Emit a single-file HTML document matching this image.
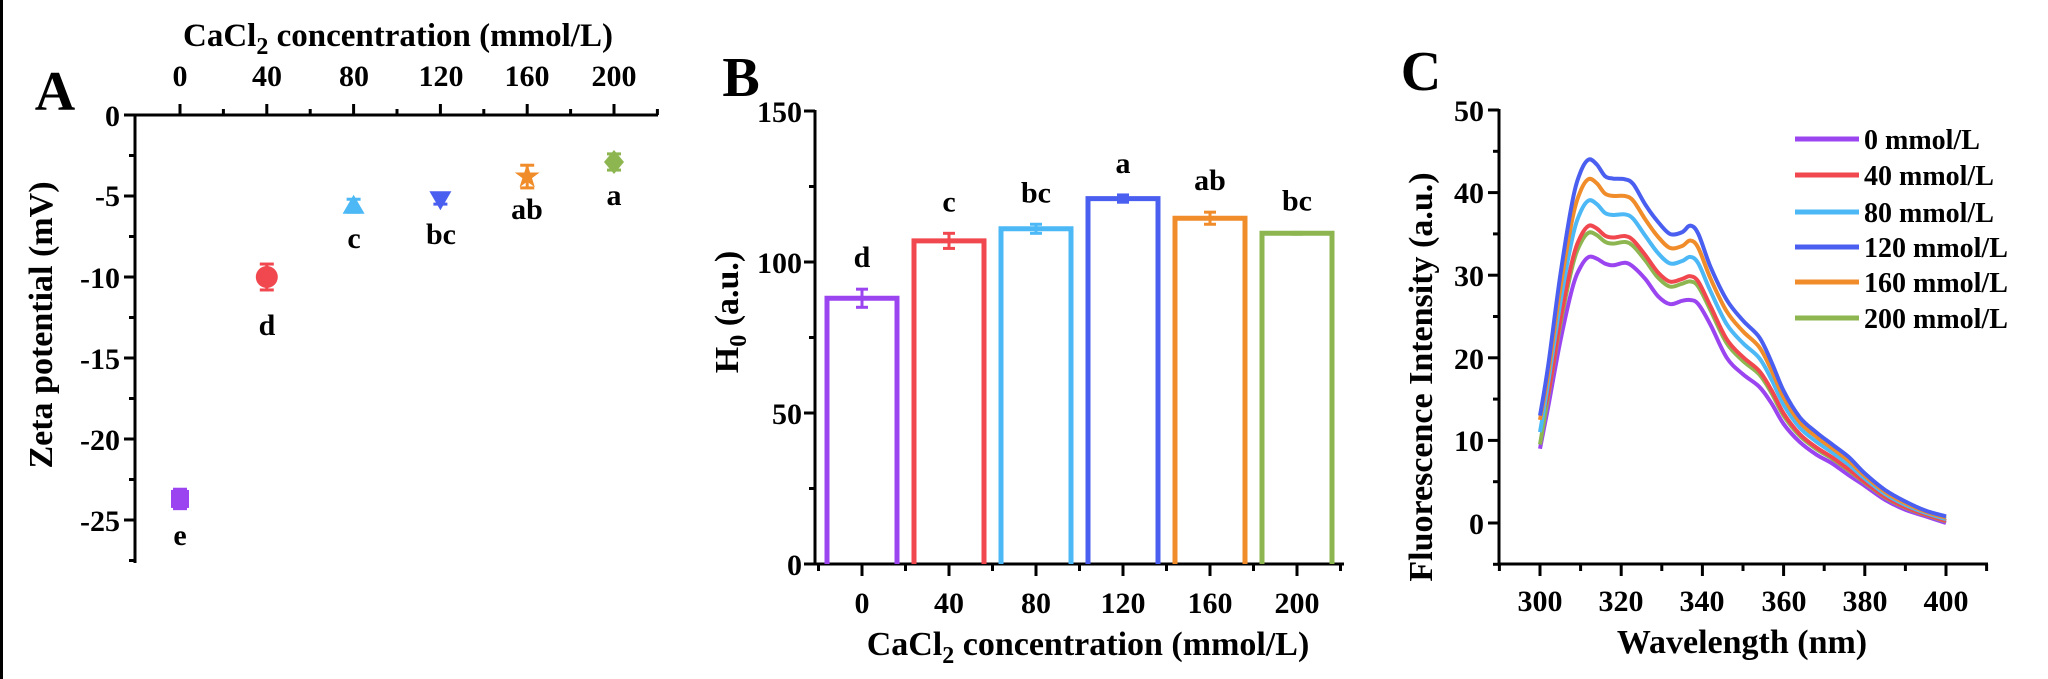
<!DOCTYPE html>
<html><head><meta charset="utf-8"><style>
html,body{margin:0;padding:0;background:#fff;}
svg{display:block;}
text{font-family:"Liberation Serif",serif;font-weight:bold;fill:#000;}
</style></head><body>
<svg id="s" width="2048" height="679" viewBox="0 0 2048 679" xmlns="http://www.w3.org/2000/svg">
<rect x="0" y="0" width="2048" height="679" fill="#fff"/>
<rect x="0" y="0" width="3" height="679" fill="#000"/>
<!-- Panel A -->
<text x="55" y="110" font-size="56" text-anchor="middle">A</text>
<text x="398" y="46" font-size="33" text-anchor="middle">CaCl<tspan font-size="24" dy="8">2</tspan><tspan dy="-8"> concentration (mmol/L)</tspan></text>
<g font-size="30" text-anchor="middle">
<text x="180" y="86">0</text><text x="267" y="86">40</text><text x="354" y="86">80</text><text x="441" y="86">120</text><text x="527" y="86">160</text><text x="614" y="86">200</text>
</g>
<g stroke="#000" stroke-width="3" fill="none">
<line x1="125" y1="115" x2="658" y2="115"/>
<line x1="135" y1="114" x2="135" y2="563"/>
</g>
<g id="aticks" stroke="#000" stroke-width="3"></g>
<g font-size="30" text-anchor="end">
<text x="120" y="126">0</text><text x="120" y="206">-5</text><text x="120" y="288">-10</text><text x="120" y="369">-15</text><text x="120" y="450">-20</text><text x="120" y="531">-25</text>
</g>
<text transform="translate(52,325) rotate(-90)" font-size="34" text-anchor="middle">Zeta potential (mV)</text>
<g id="apts"></g>
<g font-size="30" text-anchor="middle">
<text x="180" y="545">e</text><text x="267" y="335">d</text><text x="354" y="248">c</text><text x="441" y="244">bc</text><text x="527" y="219">ab</text><text x="614" y="205">a</text>
</g>
<!-- Panel B -->
<text x="741" y="96" font-size="56" text-anchor="middle">B</text>
<g stroke="#000" stroke-width="3" fill="none">
<line x1="815" y1="110" x2="815" y2="565"/>
<line x1="814" y1="564" x2="1344" y2="564"/>
</g>
<g id="bticks" stroke="#000" stroke-width="3"></g>
<g font-size="30" text-anchor="end">
<text x="802" y="122">150</text><text x="802" y="273">100</text><text x="802" y="424">50</text><text x="802" y="575">0</text>
</g>
<text transform="translate(738,312) rotate(-90)" font-size="34" text-anchor="middle">H<tspan font-size="24" dy="8">0</tspan><tspan dy="-8"> (a.u.)</tspan></text>
<g id="bars"></g>
<g font-size="30" text-anchor="middle">
<text x="862" y="613">0</text><text x="949" y="613">40</text><text x="1036" y="613">80</text><text x="1123" y="613">120</text><text x="1210" y="613">160</text><text x="1297" y="613">200</text>
</g>
<text x="1088" y="655" font-size="34" text-anchor="middle">CaCl<tspan font-size="24" dy="8">2</tspan><tspan dy="-8"> concentration (mmol/L)</tspan></text>
<!-- Panel C -->
<text x="1421" y="90" font-size="56" text-anchor="middle">C</text>
<g stroke="#000" stroke-width="3" fill="none">
<line x1="1499" y1="109" x2="1499" y2="565"/>
<line x1="1498" y1="564" x2="1988" y2="564"/>
</g>
<g id="cticks" stroke="#000" stroke-width="3"></g>
<g font-size="30" text-anchor="end">
<text x="1484" y="121">50</text><text x="1484" y="203">40</text><text x="1484" y="286">30</text><text x="1484" y="369">20</text><text x="1484" y="451">10</text><text x="1484" y="534">0</text>
</g>
<g font-size="30" text-anchor="middle">
<text x="1540" y="611">300</text><text x="1621" y="611">320</text><text x="1702" y="611">340</text><text x="1784" y="611">360</text><text x="1865" y="611">380</text><text x="1946" y="611">400</text>
</g>
<text x="1742" y="653" font-size="34" text-anchor="middle">Wavelength (nm)</text>
<text transform="translate(1432,377) rotate(-90)" font-size="34" text-anchor="middle">Fluorescence Intensity (a.u.)</text>
<g id="curves" fill="none" stroke-width="4" stroke-linejoin="round"></g>
<g id="legend"></g>
</svg>
<script>
var NS="http://www.w3.org/2000/svg";
function el(p,t,a){var e=document.createElementNS(NS,t);for(var k in a)e.setAttribute(k,a[k]);p.appendChild(e);return e;}
var C=["#9b45f0","#f0484e","#4cb8f5","#4a5ff0","#f08c2a","#8db651"];
var at=document.getElementById('aticks');
for(var v=0;v<=220;v+=20){var x=180+v*86.8/40;el(at,'line',{x1:x,y1:115,x2:x,y2:(v%40==0?104:109)});}
for(var v=0;v>=-27.5;v-=2.5){var y=115+(-v)*81/5;el(at,'line',{x1:135,y1:y,x2:(Math.abs(v%5)<0.01?124:129),y2:y});}
var ap=document.getElementById('apts');
var AV=[[-23.7,0.6],[-10,0.8],[-5.6,0.4],[-5.2,0.3],[-3.8,0.7],[-2.9,0.5]];
function ax(i){return 180+i*86.8;} function ay(v){return 115+(-v)*81/5;}
AV.forEach(function(d,i){var x=ax(i),y=ay(d[0]),c=C[i],y1=ay(d[0]+d[1]),y2=ay(d[0]-d[1]);
 el(ap,'line',{x1:x,y1:y1,x2:x,y2:y2,stroke:c,'stroke-width':3});
 el(ap,'line',{x1:x-7,y1:y1,x2:x+7,y2:y1,stroke:c,'stroke-width':3});
 el(ap,'line',{x1:x-7,y1:y2,x2:x+7,y2:y2,stroke:c,'stroke-width':3});
 var s=9;
 if(i==0)el(ap,'rect',{x:x-s,y:y-s,width:2*s,height:2*s,fill:c});
 if(i==1)el(ap,'circle',{cx:x,cy:y,r:11,fill:c});
 if(i==2)el(ap,'polygon',{points:(x)+','+(y-11)+' '+(x+11)+','+(y+8)+' '+(x-11)+','+(y+8),fill:c});
 if(i==3)el(ap,'polygon',{points:(x)+','+(y+11)+' '+(x+11)+','+(y-8)+' '+(x-11)+','+(y-8),fill:c});
 if(i==4){var p=[];for(var k=0;k<10;k++){var r=k%2?5:13,a=-Math.PI/2+k*Math.PI/5;p.push((x+r*Math.cos(a)).toFixed(1)+','+(y+r*Math.sin(a)).toFixed(1));}el(ap,'polygon',{points:p.join(' '),fill:c});}
 if(i==5)el(ap,'polygon',{points:x+','+(y-12)+' '+(x+10)+','+y+' '+x+','+(y+12)+' '+(x-10)+','+y,fill:c});
});
var bt=document.getElementById('bticks');
for(var v=0;v<=150;v+=25){var y=564-v*151/50;el(bt,'line',{x1:815,y1:y,x2:(v%50==0?804:809),y2:y});}
for(var i=-0.5;i<=5.5;i+=0.5){var x=862+i*87;el(bt,'line',{x1:x,y1:564,x2:x,y2:(Math.abs(i%1)<0.01?576:571)});}
var bb=document.getElementById('bars');
var BV=[[88,3],[107,2.5],[111,1.5],[121,1.2],[114.5,2],[109.5,0.3]];
function by(v){return 564-v*151/50;}
BV.forEach(function(d,i){var x=862+i*87,c=C[i],t=by(d[0]);
 el(bb,'path',{d:'M'+(x-35)+' 564 V'+t+' H'+(x+35)+' V564',fill:'none',stroke:c,'stroke-width':5});
 var y1=by(d[0]+d[1]),y2=by(d[0]-d[1]);
 el(bb,'line',{x1:x,y1:y1,x2:x,y2:y2,stroke:c,'stroke-width':3});
 el(bb,'line',{x1:x-6,y1:y1,x2:x+6,y2:y1,stroke:c,'stroke-width':3});
 el(bb,'line',{x1:x-6,y1:y2,x2:x+6,y2:y2,stroke:c,'stroke-width':3});
 var L=['d','c','bc','a','ab','bc'][i];
 var tx=el(bb,'text',{x:x,y:by(d[0]+d[1])-22,'font-size':30,'text-anchor':'middle'});tx.textContent=L;
});
var ct=document.getElementById('cticks');
for(var v=-5;v<=50;v+=5){var y=523-v*8.26;el(ct,'line',{x1:1499,y1:y,x2:(v%10==0?1488:1493),y2:y});}
for(var w=290;w<=410;w+=10){var x=1540+(w-300)*4.06;el(ct,'line',{x1:x,y1:564,x2:x,y2:(w%20==0?576:571)});}
var P=[[300,9],[302,14],[305,22],[308,28.5],[310,31],[312,32.2],[314,32],[316,31.4],[318,31.2],[321,31.5],[323,31],[326,29.5],[329,27.5],[332,26.5],[335,26.9],[337,27],[339,26.5],[342,24],[346,20],[350,18],[354,16.5],[357,14.5],[360,12],[364,9.8],[368,8.3],[372,7.2],[376,5.8],[380,4.5],[385,2.8],[390,1.6],[395,0.8],[400,0]];
var Q=[13,19,30,39,42.5,44,43.4,42,41.7,41.6,41,38.5,36.5,35,35.2,36,35,31,27,24.5,22.5,19.5,16,12.8,11,9.5,8,6,4,2.6,1.5,0.8];
var F=[0,0.32,0.58,1,0.8,0.25];var ST=[9,12.5,11,13,12.5,9.5];
var cv=document.getElementById('curves');
[0,5,1,2,4,3].forEach(function(i){var f=F[i];var pts=[];
 P.forEach(function(p,k){var v=p[1]+(Q[k]-p[1])*f;if(k==0)v=ST[i];pts.push([1540+(p[0]-300)*4.06,523-v*8.26]);});
 var d='M'+pts[0][0].toFixed(1)+' '+pts[0][1].toFixed(1);
 for(var k=0;k<pts.length-1;k++){var p0=pts[Math.max(k-1,0)],p1=pts[k],p2=pts[k+1],p3=pts[Math.min(k+2,pts.length-1)];
  var c1x=p1[0]+(p2[0]-p0[0])/6,c1y=p1[1]+(p2[1]-p0[1])/6,c2x=p2[0]-(p3[0]-p1[0])/6,c2y=p2[1]-(p3[1]-p1[1])/6;
  d+=' C'+c1x.toFixed(1)+' '+c1y.toFixed(1)+' '+c2x.toFixed(1)+' '+c2y.toFixed(1)+' '+p2[0].toFixed(1)+' '+p2[1].toFixed(1);}
 el(cv,'path',{d:d,stroke:C[i]});});
var lg=document.getElementById('legend');
var LT=['0 mmol/L','40 mmol/L','80 mmol/L','120 mmol/L','160 mmol/L','200 mmol/L'];
var LY=[139,175,212,247,282,318];
LT.forEach(function(t,i){el(lg,'line',{x1:1795,y1:LY[i],x2:1859,y2:LY[i],stroke:C[i],'stroke-width':5});
 var tx=el(lg,'text',{x:1864,y:LY[i]+10,'font-size':28});tx.textContent=t;});
</script>
</body></html>
